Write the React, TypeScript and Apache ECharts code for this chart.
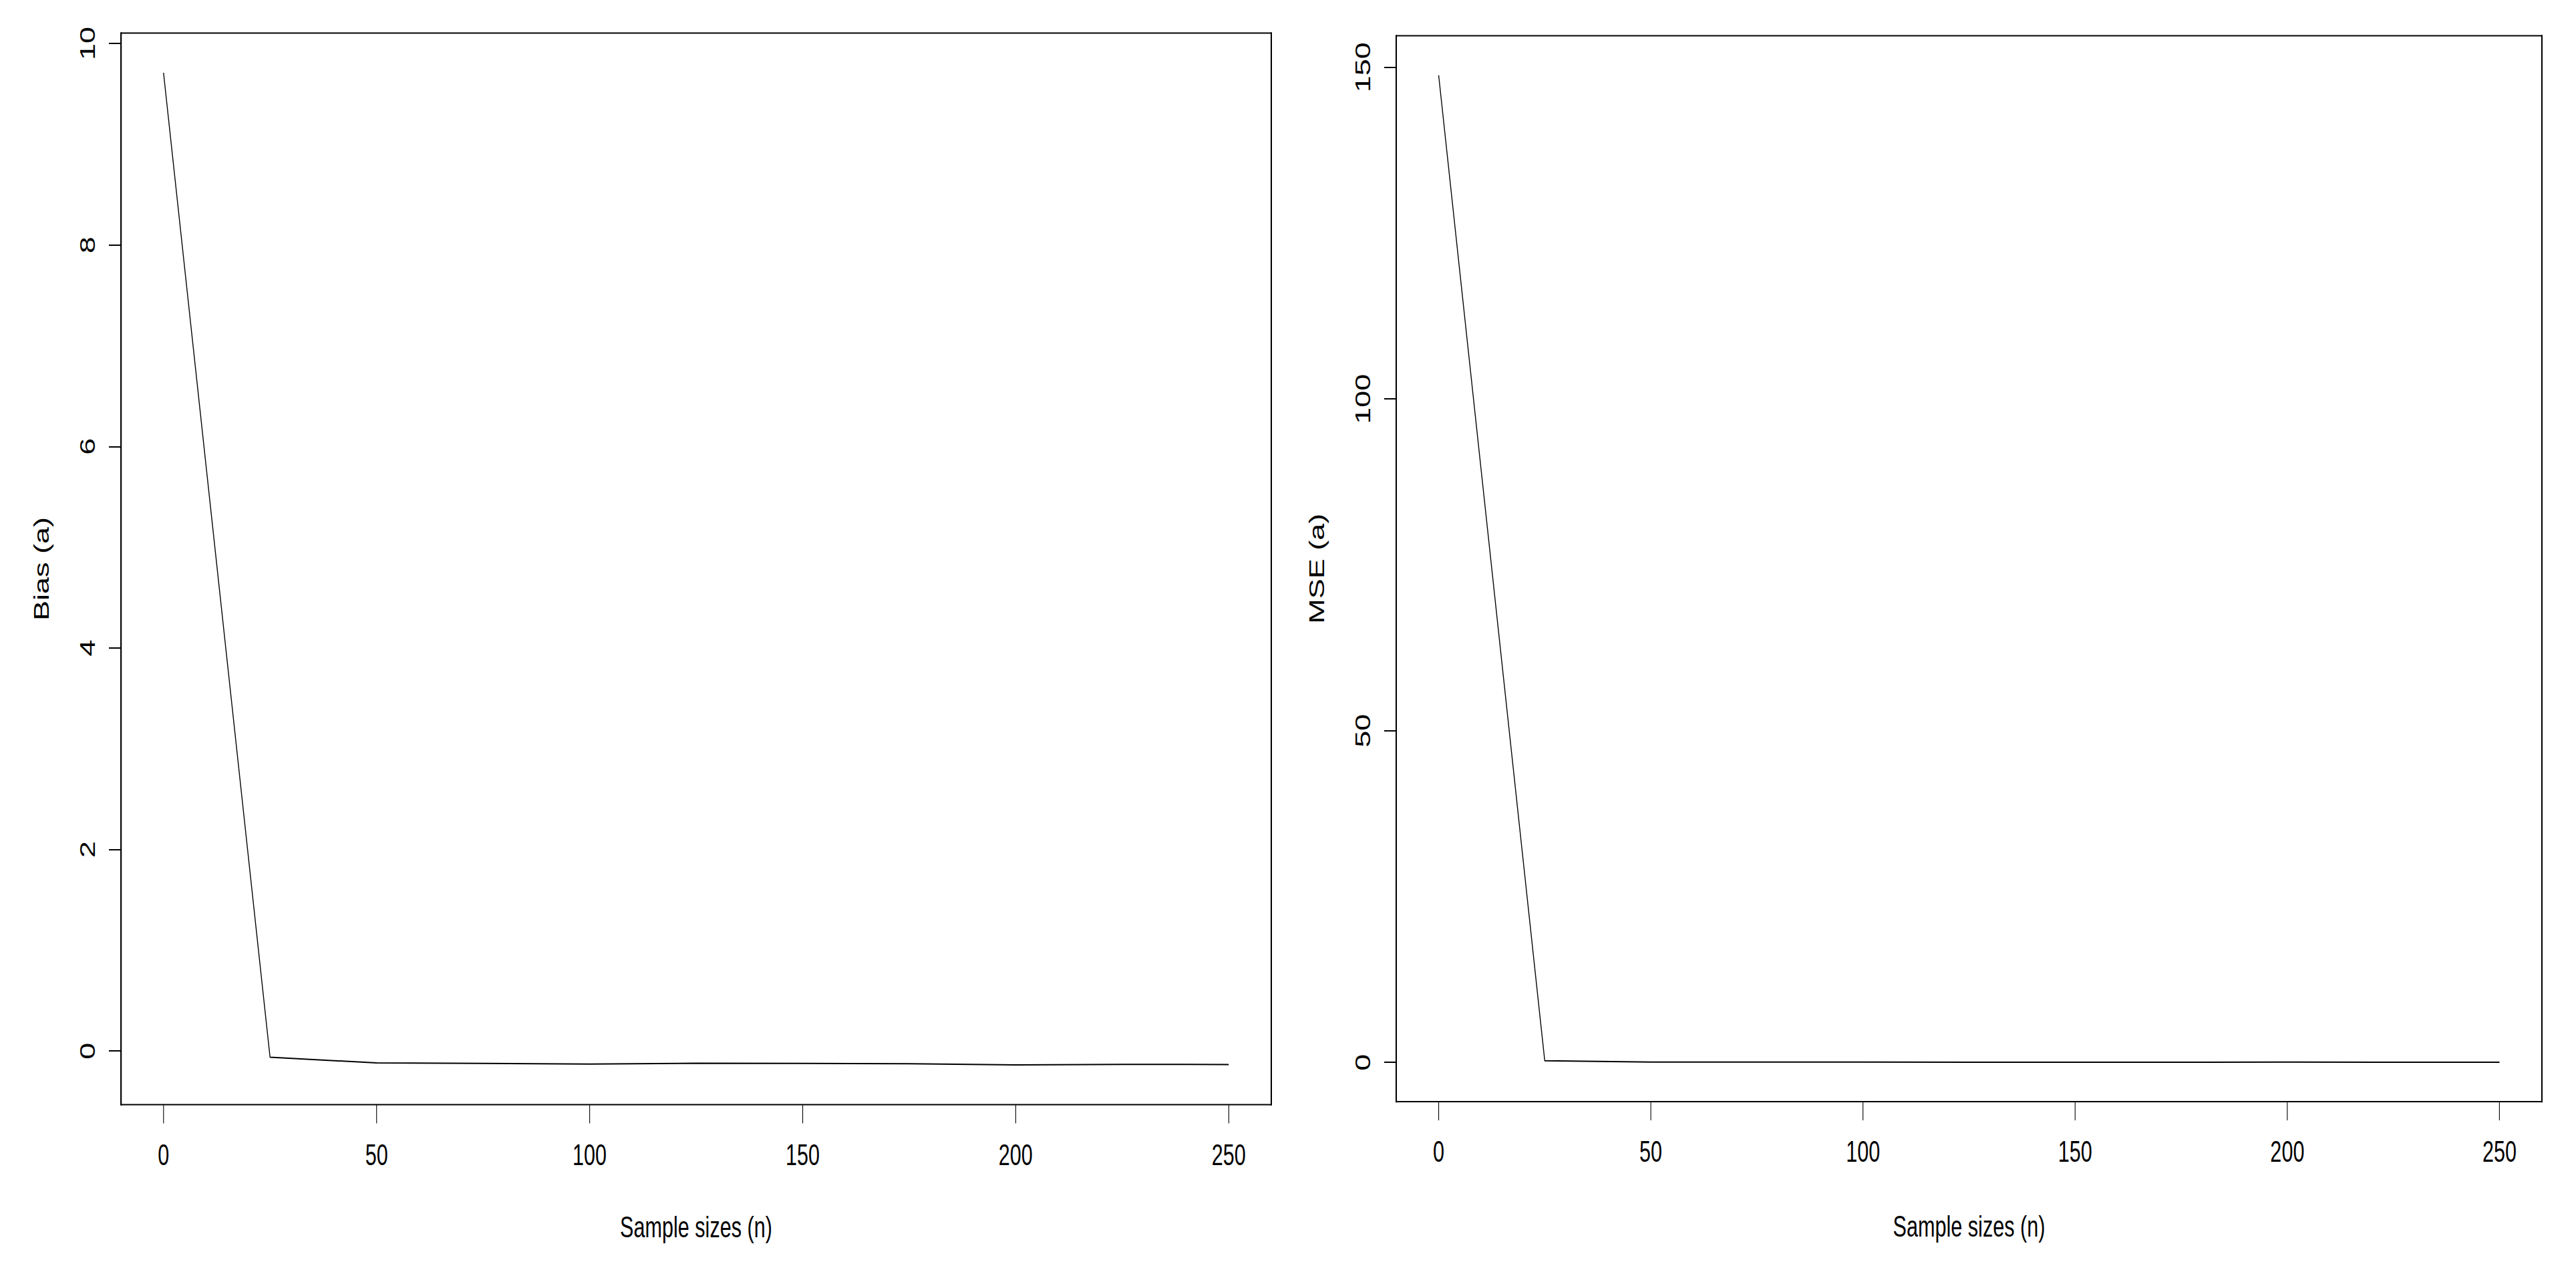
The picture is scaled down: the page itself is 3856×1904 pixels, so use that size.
import React, { useEffect, useRef } from "react";
import * as echarts from "echarts";

// ---- data ----
const sampleSizes = [0, 25, 50, 75, 100, 125, 150, 175, 200, 225, 250];
const biasValues = [9.71, -0.062, -0.119, -0.124, -0.13, -0.122, -0.124, -0.126, -0.139, -0.133, -0.135];
const mseValues = [148.8, 0.23, 0.03, 0.03, 0.03, 0.025, 0.025, 0.025, 0.03, 0.025, 0.025];
const xTicks = [0, 50, 100, 150, 200, 250];
const biasTicks = [0, 2, 4, 6, 8, 10];
const mseTicks = [0, 50, 100, 150];
const xTitle = "Sample sizes (n)";
const biasTitle = "Bias (a)";
const mseTitle = "MSE (a)";

// R-style 4% padding of the data range
const padRange = (vals: number[]) => {
  const mn = Math.min(...vals);
  const mx = Math.max(...vals);
  const p = 0.04 * (mx - mn);
  return [mn - p, mx + p];
};

const SX = 0.68; // horizontal compression of the original plot
const W = 3856;
const H = 1904;
const W0 = W / SX;
const FONT = "'Liberation Sans', Arial, Helvetica, sans-serif";
const FS = 45;

const fx = (v: number) => v / SX; // final px -> original px

export default function App() {
  const ref = useRef<HTMLDivElement>(null);
  useEffect(() => {
    if (!ref.current) return;
    const chart = echarts.init(ref.current, undefined, { renderer: "svg" });
    const xr = padRange(sampleSizes);
    const br = padRange(biasValues);
    const mr = padRange(mseValues);

    const grids = [
      { left: fx(181), width: fx(1903) - fx(181), top: 49.4, height: 1653.5 - 49.4 },
      { left: fx(2090), width: fx(3805) - fx(2090), top: 53.5, height: 1649 - 53.5 },
    ];

    const mkX = (gi: number) => ({
      type: "value",
      gridIndex: gi,
      position: "bottom",
      min: xr[0],
      max: xr[1],
      axisLine: { show: false, onZero: false },
      splitLine: { show: false },
      axisTick: {
        show: true,
        customValues: xTicks,
        length: 28,
        lineStyle: { color: "#000", width: 1.6 },
      },
      axisLabel: {
        customValues: xTicks,
        margin: 52,
        fontSize: FS,
        fontFamily: FONT,
        color: "#000",
      },
      name: xTitle,
      nameLocation: "middle",
      nameGap: gi === 0 ? 160 : 164,
      nameTextStyle: { fontSize: FS, fontFamily: FONT, color: "#000" },
    });

    const mkY = (gi: number, r: number[], ticks: number[], title: string) => ({
      type: "value",
      gridIndex: gi,
      position: "left",
      min: r[0],
      max: r[1],
      axisLine: { show: true, onZero: false, lineStyle: { color: "#000", width: 3 } },
      splitLine: { show: false },
      axisTick: {
        show: true,
        customValues: ticks,
        length: fx(18),
        lineStyle: { color: "#000", width: 2 },
      },
      axisLabel: {
        customValues: ticks,
        rotate: 90,
        margin: 50,
        fontSize: FS,
        fontFamily: FONT,
        color: "#000",
      },
      name: title,
      nameLocation: "middle",
      nameRotate: 90,
      nameGap: 152,
      nameTextStyle: { fontSize: FS, fontFamily: FONT, color: "#000" },
    });

    const mkYRight = (gi: number, r: number[]) => ({
      type: "value",
      gridIndex: gi,
      position: "right",
      min: r[0],
      max: r[1],
      axisLine: { show: true, onZero: false, lineStyle: { color: "#000", width: 3 } },
      splitLine: { show: false },
      axisTick: { show: false },
      axisLabel: { show: false },
    });

    chart.setOption({
      animation: false,
      backgroundColor: "#fff",
      grid: grids.map((g) => ({ ...g, show: true, borderColor: "#000", borderWidth: 2, backgroundColor: "transparent" })),
      xAxis: [mkX(0), mkX(1)],
      yAxis: [
        mkY(0, br, biasTicks, biasTitle),
        mkY(1, mr, mseTicks, mseTitle),
        mkYRight(0, br),
        mkYRight(1, mr),
      ],
      series: [
        {
          type: "line",
          xAxisIndex: 0,
          yAxisIndex: 0,
          symbol: "none",
          data: sampleSizes.map((x, i) => [x, biasValues[i]]),
          lineStyle: { color: "#000", width: 2 },
        },
        {
          type: "line",
          xAxisIndex: 1,
          yAxisIndex: 1,
          symbol: "none",
          data: sampleSizes.map((x, i) => [x, mseValues[i]]),
          lineStyle: { color: "#000", width: 2 },
        },
      ],
    });
    return () => chart.dispose();
  }, []);

  return (
    <div
      style={{
        position: "fixed",
        left: 0,
        top: 0,
        width: W,
        height: H,
        overflow: "hidden",
        background: "#fff",
      }}
    >
      <div
        ref={ref}
        style={{
          width: W0,
          height: H,
          transform: `scale(${SX}, 1)`,
          transformOrigin: "0 0",
        }}
      />
    </div>
  );
}
